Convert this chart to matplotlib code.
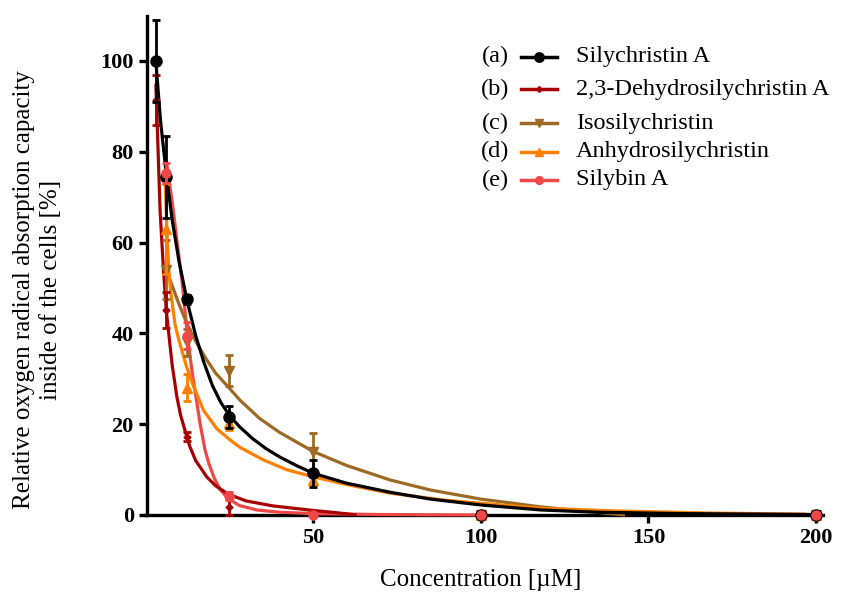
import numpy as np
import matplotlib.pyplot as plt
from matplotlib.lines import Line2D

plt.rcParams['font.family'] = ['Liberation Serif', 'DejaVu Serif']

# measured points (mean, sd) per compound
conc_a = [3.125, 6.25, 12.5, 25, 50, 100, 200]
mean_a = [100, 74.5, 47.5, 21.6, 9.2, 0, 0]
sd_a = [9, 9, 1, 2.5, 3, 0, 0]

conc_b = [3.125, 6.25, 12.5, 25, 50, 100, 200]
mean_b = [91.4, 45.2, 17.2, 1.8, 0.3, 0, 0]
sd_b = [5.5, 4, 1, 1.9, 0.3, 0, 0]

conc_c = [6.25, 12.5, 25, 50, 100, 200]
mean_c = [54, 38, 31.8, 13.9, 0, 0]
sd_c = [6.5, 3, 3.5, 4.2, 0, 0]

conc_d = [6.25, 12.5, 25, 50, 100, 200]
mean_d = [63, 28, 20.2, 7.8, 0, 0]
sd_d = [10, 3, 1.5, 0.8, 0, 0]

conc_e = [6.25, 12.5, 25, 50, 100, 200]
mean_e = [75.3, 39.5, 4.2, 0, 0, 0]
sd_e = [2.2, 3, 0.8, 0, 0, 0]

# fitted curves
fit_x_a = [3.125, 4.5, 6.25, 8, 10, 12.5, 15, 17.5, 20, 22.5, 25, 28, 32, 36, 40, 45, 50,
           60, 73, 85, 100, 118, 135, 160, 200]
fit_y_a = [100, 87, 75, 65, 56, 47, 39.5, 33.5, 28.5, 24.8, 22, 19.5, 16.8, 14.6, 12.8, 10.9,
           9.2, 7, 5, 3.5, 2.2, 1.1, 0.6, 0.3, 0.1]

fit_x_b = [3.125, 4.4, 5.4, 6.25, 6.9, 8, 9.4, 10.5, 11.8, 13.3, 15, 18.3, 21, 24.7, 30, 38,
           50, 57, 63]
fit_y_b = [95, 67, 54, 45, 40.5, 33, 26, 22, 18.7, 15, 12, 8.4, 6.4, 4.6, 3.1, 2.0,
           1.0, 0.5, 0]

fit_x_c = [6.25, 8, 10, 12.5, 15, 18, 21, 24.7, 28.2, 34, 40, 50, 60, 73, 85, 100, 117.7,
           130, 143]
fit_y_c = [54, 50.5, 46.5, 42, 38.3, 34.5, 31.2, 28.2, 25.3, 21.3, 18.2, 14, 10.9, 7.7, 5.5,
           3.5, 1.8, 0.9, 0]

fit_x_d = [5.9, 6.4, 7, 7.5, 8.85, 10, 12.35, 14.3, 17.3, 21.3, 25.3, 28.2, 35, 42, 50, 60,
           73, 90, 117.7, 140, 170, 197]
fit_y_d = [74, 63, 54, 49.5, 42, 38.5, 32.5, 28.5, 23.1, 19.0, 16.5, 14.9, 12.2, 10, 8.4, 6.7,
           4.8, 3.2, 1.5, 0.9, 0.4, 0.2]

fit_x_e = [6.25, 8, 10, 11, 12.35, 13.3, 14.3, 15.3, 16.3, 17.8, 19, 20.5, 22.3, 24.7, 28,
           33.2, 40, 50, 70, 100]
fit_y_e = [78, 69, 57, 51, 41, 35, 29.7, 25, 20.2, 14.3, 11.2, 8.2, 5.6, 3.6, 2.1,
           1.1, 0.6, 0.3, 0.1, 0]

names = ['Silychristin A', '2,3-Dehydrosilychristin A', 'Isosilychristin',
         'Anhydrosilychristin', 'Silybin A']
tags = ['(a)', '(b)', '(c)', '(d)', '(e)']
colors = ['#000000', '#a80000', '#9c6a24', '#ff8000', '#f04848']
markers = ['o', 'D', 'v', '^', 'o']
msizes = [8, 3.5, 6.5, 6.5, 6.5]

points = [(conc_a, mean_a, sd_a), (conc_b, mean_b, sd_b), (conc_c, mean_c, sd_c),
          (conc_d, mean_d, sd_d), (conc_e, mean_e, sd_e)]
fits = [(fit_x_a, fit_y_a), (fit_x_b, fit_y_b), (fit_x_c, fit_y_c),
        (fit_x_d, fit_y_d), (fit_x_e, fit_y_e)]

fig = plt.figure(figsize=(8.55, 5.97), dpi=100)
ax = fig.add_axes([0.170, 0.1374, 0.7924, 0.8365])

curve_order = [4, 2, 3, 1, 0]
for k, i in enumerate(curve_order):
    fx, fy = fits[i]
    ax.plot(fx, fy, color=colors[i], lw=2.3, zorder=3 + k * 0.1, clip_on=False,
            solid_capstyle='butt', solid_joinstyle='round')

point_order = [2, 3, 1, 0, 4]
for k, i in enumerate(point_order):
    x, m, s = points[i]
    ax.errorbar(x, m, yerr=s, fmt=markers[i], color=colors[i], ms=msizes[i],
                elinewidth=2, capsize=3.2, capthick=2, zorder=4 + k * 0.1,
                clip_on=False)

ax.set_xlim(0, 202)
ax.set_ylim(0, 110)
ax.set_xticks([50, 100, 150, 200])
ax.set_yticks([0, 20, 40, 60, 80, 100])

for side in ['top', 'right']:
    ax.spines[side].set_visible(False)
for side in ['left', 'bottom']:
    ax.spines[side].set_linewidth(2.4)
ax.spines['left'].set_position(('data', 0.5))
ax.tick_params(direction='out', length=6, width=2.4, labelsize=16)
for lab in ax.get_xticklabels() + ax.get_yticklabels():
    lab.set_fontweight('bold')

fig.text(0.044, 0.515, 'Relative oxygen radical absorption capacity\ninside of the cells [%]',
         rotation=90, ha='center', va='center', multialignment='center',
         fontsize=18, linespacing=1.3)
fig.text(0.5626, 0.029, 'Concentration [µM]', ha='center', va='center', fontsize=18)

# legend rows: tag, short line with marker, compound name
row_y = [56.7, 89.3, 123.3, 151.7, 180]
for i in range(5):
    yf = 1 - row_y[i] / 597
    fig.text(495 / 855, yf, tags[i], ha='center', va='center', fontsize=17.5)
    fig.add_artist(Line2D([521 / 855, 557 / 855], [yf, yf], color=colors[i], lw=2.5,
                          transform=fig.transFigure))
    fig.add_artist(Line2D([539 / 855], [yf], color=colors[i], marker=markers[i],
                          ms=msizes[i] * 0.85, transform=fig.transFigure))
    fig.text(576 / 855, yf, names[i], ha='left', va='center', fontsize=17.5)

fig.savefig('out.png', dpi=100)
